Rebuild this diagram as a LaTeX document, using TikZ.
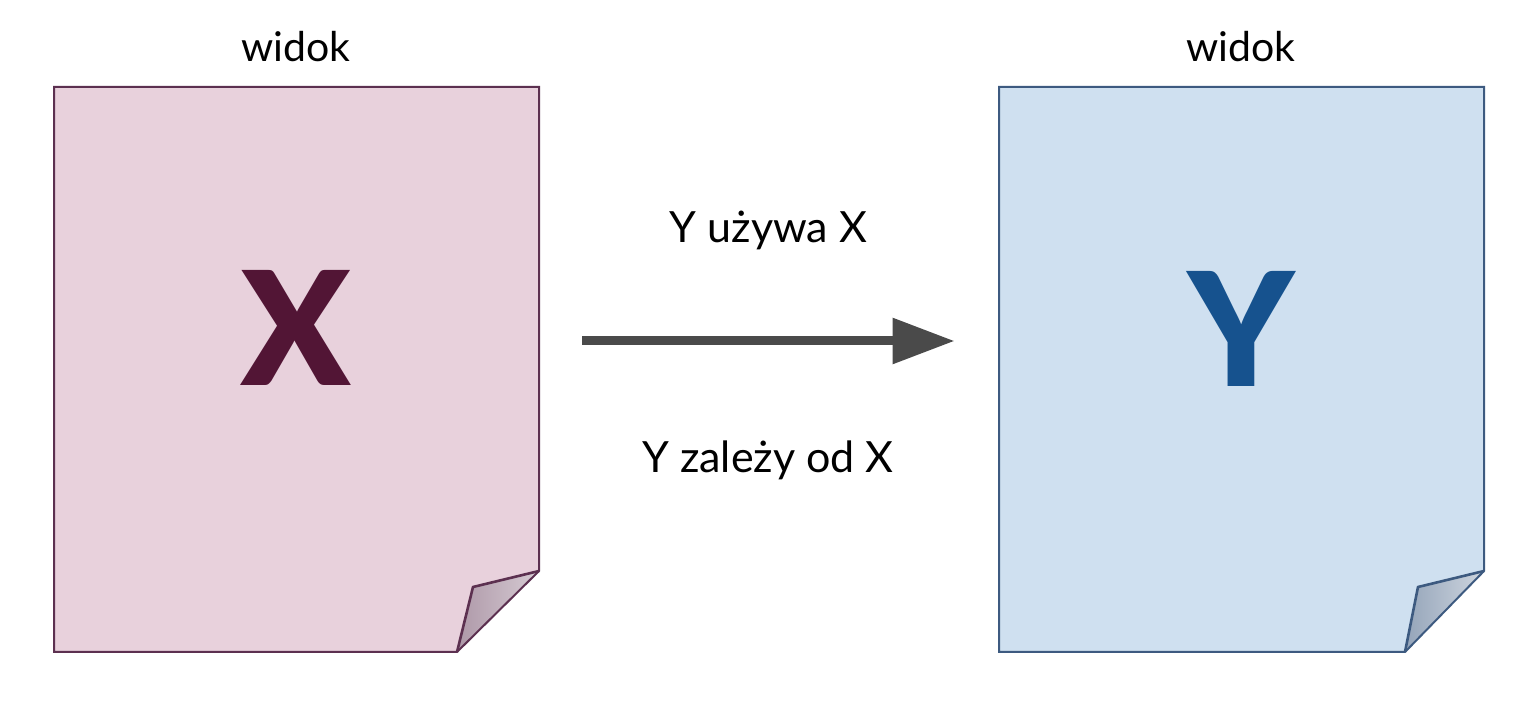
\documentclass[tikz,border=0pt]{standalone}
\usepackage{fontspec}
\setmainfont{Lato}
\newfontfamily\blackfont{Lato Black}
\usetikzlibrary{arrows.meta}
\definecolor{pinkfill}{HTML}{E8D1DC}
\definecolor{pinkline}{HTML}{5C3050}
\definecolor{xcol}{HTML}{521535}
\definecolor{bluefill}{HTML}{CFE0F0}
\definecolor{blueline}{HTML}{3D5A80}
\definecolor{ycol}{HTML}{16528E}
\definecolor{arrowcol}{HTML}{4A4A4A}
\tikzset{
  label/.style={font=\fontsize{21.5}{26}\selectfont, anchor=base, text=black, inner sep=0pt},
  title/.style={font=\fontsize{20.5}{24}\selectfont, anchor=base, text=black, inner sep=0pt},
  bigletter/.style={font=\fontsize{79}{90}\selectfont\blackfont, anchor=base, inner sep=0pt},
  pagebox/.style={draw=none, minimum width=242.5pt, minimum height=282.5pt, inner sep=0pt},
  conn/.style={draw=arrowcol, line width=4.5pt, -{Triangle[length=31pt,width=22pt]}},
}
\begin{document}
\begin{tikzpicture}[x=0.5pt,y=-0.5pt]
\useasboundingbox (0,0) rectangle (1531,704);
\fill[white] (0,0) rectangle (1531,704);
% left page
\node[pagebox] (px) at (296.5,369.5) {};
\fill[pinkfill] (54,87) -- (539,87) -- (539,571) -- (457,652) -- (54,652) -- cycle;
\shade[left color=pinkline!50, right color=pinkline!25] (539,571) -- (473,587) -- (457,652) -- cycle;
\draw[pinkline, line width=1pt, line join=miter] (54,87) -- (539,87) -- (539,571) -- (457,652) -- (54,652) -- cycle;
\draw[pinkline, line width=1.3pt, line join=round] (539,571) -- (473,587) -- (457,652);
% right page
\node[pagebox] (py) at (1241.5,369.5) {};
\fill[bluefill] (999,87) -- (1484,87) -- (1484,571) -- (1405,652) -- (999,652) -- cycle;
\shade[left color=blueline!55, right color=blueline!25] (1484,571) -- (1418,587) -- (1405,652) -- cycle;
\draw[blueline, line width=1pt, line join=miter] (999,87) -- (1484,87) -- (1484,571) -- (1405,652) -- (999,652) -- cycle;
\draw[blueline, line width=1.3pt, line join=round] (1484,571) -- (1418,587) -- (1405,652);
% titles
\node[title] (tx) at (296,62) {widok};
\node[title] (ty) at (1241,62) {widok};
% letters
\node[bigletter, text=xcol] (lx) at (296,386) {X};
\node[bigletter, text=ycol] (ly) at (1241,387) {Y};
% arrow
\draw[conn] ([xshift=21.5pt]px.east |- 0,341) -- ([xshift=-22pt]py.west |- 0,341);
% labels
\node[label] (l1) at (768.5,243) {Y używa X};
\node[label] (l2) at (768,473) {Y zależy od X};
\end{tikzpicture}
\end{document}
